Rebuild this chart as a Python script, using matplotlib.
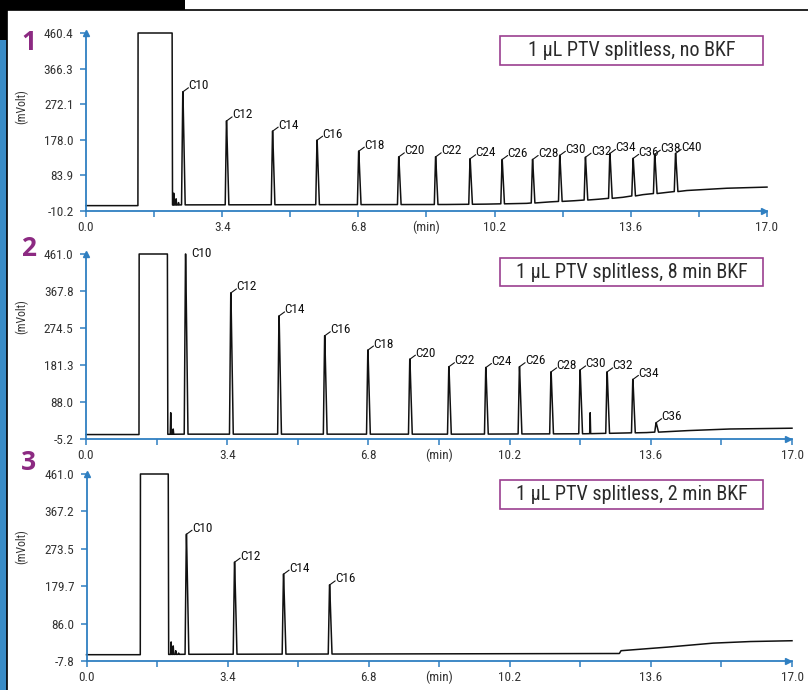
import matplotlib
matplotlib.use('Agg')
import numpy as np
import matplotlib.pyplot as plt
from matplotlib import font_manager
from matplotlib.patches import Rectangle

# ---- data ----
carbons = ['C10', 'C12', 'C14', 'C16', 'C18', 'C20', 'C22', 'C24',
           'C26', 'C28', 'C30', 'C32', 'C34', 'C36', 'C38', 'C40']

# panel 1: no back-flush
p1_rt = [2.42, 3.51, 4.66, 5.77, 6.81, 7.81, 8.73, 9.59,
         10.39, 11.15, 11.83, 12.47, 13.08, 13.66, 14.20, 14.72]
p1_height = [305, 228, 201, 177, 148, 133, 133, 128,
             126, 126, 137, 132, 142, 129, 140, 142]
p1_base_t = [0.0, 1.25, 2.35, 9.0, 10.0, 11.0, 11.6, 12.2, 12.8, 13.4, 13.9, 14.5, 15.0, 16.0, 17.0]
p1_base_v = [4, 4, 6, 7, 8, 10, 14, 17, 21, 26, 33, 39, 44, 50, 53]
p1_noise_t = [2.19, 2.25, 2.31]
p1_noise_h = [37, 22, 12]
p1_solvent = (1.30, 2.15)
p1_yticks = [-10.2, 83.9, 178.0, 272.1, 366.3, 460.4]

# panel 2: 8 min back-flush
p2_rt = [2.40, 3.49, 4.65, 5.75, 6.79, 7.80, 8.74, 9.63,
         10.44, 11.20, 11.90, 12.55, 13.17, 13.73]
p2_height = [461, 363, 305, 255, 219, 196, 177, 175,
             177, 164, 169, 164, 145, 36]
p2_base_t = [0.0, 1.25, 2.3, 9.0, 12.0, 13.5, 14.5, 15.5, 17.0]
p2_base_v = [6, 6, 7, 7, 8, 11, 16, 20, 22]
p2_noise_t = [2.04, 2.10, 12.14]
p2_noise_h = [61, 20, 61]
p2_solvent = (1.28, 1.96)
p2_yticks = [-5.2, 88.0, 181.3, 274.5, 367.8, 461.0]

# panel 3: 2 min back-flush
p3_rt = [2.41, 3.57, 4.75, 5.86]
p3_height = [310, 240, 210, 183]
p3_base_t = [0.0, 1.25, 2.3, 12.84, 12.88, 14.0, 15.1, 16.0, 17.0]
p3_base_v = [8, 8, 9, 11, 18, 27, 37, 41, 43]
p3_noise_t = [2.04, 2.09, 2.15, 2.22]
p3_noise_h = [40, 30, 18, 12]
p3_solvent = (1.30, 1.97)
p3_yticks = [-7.8, 86.0, 179.7, 273.5, 367.2, 461.0]

titles = ['1 µL PTV splitless, no BKF',
          '1 µL PTV splitless, 8 min BKF',
          '1 µL PTV splitless, 2 min BKF']
x_ticks = [0.0, 1.7, 3.4, 5.1, 6.8, 8.5, 10.2, 11.9, 13.6, 15.3, 17.0]
x_ticklabels = ['0.0', '', '3.4', '', '6.8', '(min)', '10.2', '', '13.6', '', '17.0']

# ---- fonts ----
names = {f.name for f in font_manager.fontManager.ttflist}
cond = next((n for n in ['Roboto Condensed', 'Liberation Sans Narrow', 'Open Sans Condensed']
             if n in names), None)
if cond is None:
    cond_kw = dict(family='DejaVu Sans', stretch='condensed')
else:
    cond_kw = dict(family=cond)

BLUE = '#2f7fc1'
PURPLE = '#8c2a82'
TXT = '#333333'

W, H = 808, 690
fig = plt.figure(figsize=(W / 100, H / 100), dpi=100)
PT = 0.72  # points per pixel


def build_trace(base_t, base_v, rt, hts, noise_t, noise_h, solvent, top):
    w = 0.035
    wn = 0.012
    pts = [(t, v) for t, v in zip(base_t, base_v)
           if all(abs(t - p) > 2.5 * w for p in list(rt) + list(noise_t))
           and not (solvent[0] - 0.05 < t < solvent[1] + 0.05)]
    for t, h in zip(rt, hts):
        b = np.interp(t, base_t, base_v)
        pts += [(t - w, b), (t - 0.004, h), (t, h), (t + 1.6 * w, b)]
    for t, h in zip(noise_t, noise_h):
        b = np.interp(t, base_t, base_v)
        pts += [(t - wn, b), (t, h), (t + wn, b)]
    b0 = np.interp(solvent[0], base_t, base_v)
    b1 = np.interp(solvent[1], base_t, base_v)
    pts += [(solvent[0] - 0.004, b0), (solvent[0], top), (solvent[1], top), (solvent[1] + 0.01, b1)]
    pts.sort(key=lambda p: p[0])
    return [p[0] for p in pts], [p[1] for p in pts]


def panel(left, right, top, bottom, yticks, rt, hts, labels, base_t, base_v,
          noise_t, noise_h, solvent, no_leader=()):
    ax = fig.add_axes([left / W, 1 - bottom / H, (right - left) / W, (bottom - top) / H])
    ax.patch.set_alpha(0)
    ymin, ymax = yticks[0], yticks[-1]
    ax.set_xlim(0, 17)
    ax.set_ylim(ymin, ymax)
    for s in ['top', 'right']:
        ax.spines[s].set_visible(False)
    for s in ['left', 'bottom']:
        ax.spines[s].set_color(BLUE)
        ax.spines[s].set_linewidth(1.3)
    ax.set_xticks(x_ticks)
    ax.set_xticklabels(x_ticklabels)
    ax.set_yticks(yticks)
    ax.set_yticklabels(['%.1f' % v for v in yticks])
    ax.tick_params(axis='both', colors=BLUE, labelcolor=TXT, length=4, width=1.1,
                   labelsize=9.5)
    ax.tick_params(axis='x', pad=3)
    ax.tick_params(axis='y', pad=5)
    for lab in ax.get_xticklabels() + ax.get_yticklabels():
        lab.set(**cond_kw)
    ax.plot([0], [1.0], marker='^', ms=5, color=BLUE, transform=ax.transAxes, clip_on=False)
    ax.plot([0.995], [0], marker='>', ms=5, color=BLUE, transform=ax.transAxes, clip_on=False)

    tx, ty = build_trace(base_t, base_v, rt, hts, noise_t, noise_h, solvent, ymax)
    ax.plot(tx, ty, color='#111111', lw=1.1, clip_on=False)

    for t, h, name in zip(rt, hts, labels):
        if name in no_leader:
            ax.annotate(name, xy=(t, h), xytext=(5.5 * PT, 0), textcoords='offset points',
                        ha='left', va='center', fontsize=9.5, color='#111111', **cond_kw)
            continue
        ax.annotate('', xy=(t, h), xytext=(5.5 * PT, 4 * PT), textcoords='offset points',
                    arrowprops=dict(arrowstyle='-', lw=0.8, color='#111111',
                                    shrinkA=0, shrinkB=0))
        ax.annotate(name, xy=(t, h), xytext=(5.5 * PT, 2.5 * PT), textcoords='offset points',
                    ha='left', va='baseline', fontsize=9.5, color='#111111', **cond_kw)
    return ax


panel(86, 767, 33, 211, p1_yticks, p1_rt, p1_height, carbons, p1_base_t, p1_base_v,
      p1_noise_t, p1_noise_h, p1_solvent)
panel(86, 792, 254, 439, p2_yticks, p2_rt, p2_height, carbons[:len(p2_rt)], p2_base_t,
      p2_base_v, p2_noise_t, p2_noise_h, p2_solvent, no_leader=('C10',))
panel(86.5, 792, 474, 661, p3_yticks, p3_rt, p3_height, carbons[:len(p3_rt)], p3_base_t,
      p3_base_v, p3_noise_t, p3_noise_h, p3_solvent)

# frame decorations: black top block, blue side strip, thin frame lines
fig.patches.append(Rectangle((0, 1 - 9.5 / H), 185 / W, 9.5 / H, transform=fig.transFigure,
                             facecolor='black', edgecolor='none'))
fig.patches.append(Rectangle((0, 1 - 40 / H), 7 / W, 31 / H, transform=fig.transFigure,
                             facecolor='black', edgecolor='none'))
fig.patches.append(Rectangle((0, 0), 6.5 / W, 1 - 40 / H, transform=fig.transFigure,
                             facecolor='#3a8cc6', edgecolor='none'))
fig.add_artist(plt.Line2D([7 / W, 1], [1 - 9.5 / H, 1 - 9.5 / H], color='black', lw=1.2,
                          transform=fig.transFigure))
fig.add_artist(plt.Line2D([7 / W, 7 / W], [0, 1 - 9.5 / H], color='black', lw=1.2,
                          transform=fig.transFigure))

# panel numbers, y labels, title boxes
for num, ny, ly, (bt, bb), title in zip(['1', '2', '3'], [42, 248, 462], [107, 317, 547],
                                        [(36, 65), (258, 286), (480, 509)], titles):
    fig.text(29 / W, 1 - ny / H, num, color=PURPLE, fontsize=19, fontweight='bold',
             family='Open Sans', ha='center', va='center')
    fig.text(22 / W, 1 - ly / H, '(mVolt)', rotation=90, fontsize=8.5, color=TXT,
             ha='center', va='center', **cond_kw)
    fig.patches.append(Rectangle((500 / W, 1 - bb / H), 263 / W, (bb - bt) / H,
                                 transform=fig.transFigure, facecolor='white',
                                 edgecolor='#9b3f90', lw=1.2))
    fig.text(631.5 / W, 1 - (bt + bb) / 2 / H, title, fontsize=14.5, color='#2a2a2a',
             ha='center', va='center', **cond_kw)

fig.savefig('out.png', dpi=100)
